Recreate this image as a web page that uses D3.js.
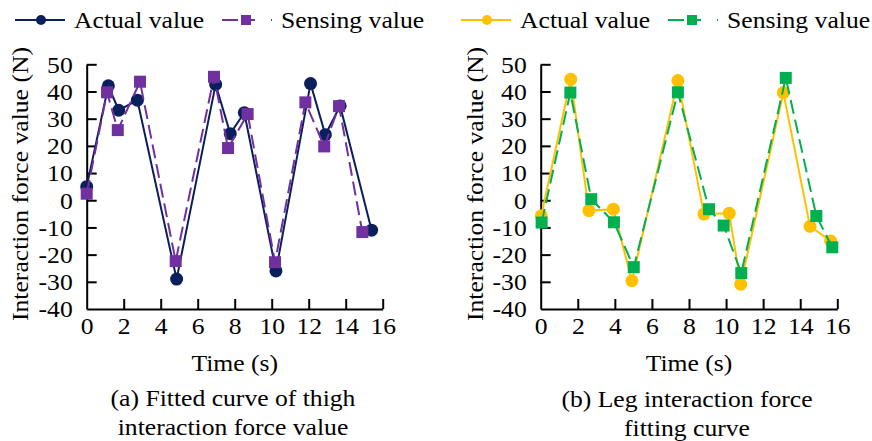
<!DOCTYPE html>
<html>
<head>
<meta charset="utf-8">
<script src="https://cdn.jsdelivr.net/npm/d3@7"></script>
<style>
  html, body { margin: 0; padding: 0; background: #fff; }
  svg { display: block; }
  text { font-family: "Liberation Serif", "Times New Roman", serif; fill: #000; }
</style>
</head>
<body>
<svg id="chart" width="872" height="441"></svg>
<script>
// (a) thigh
const thighActualT = [0, 1.17, 1.73, 2.74, 4.86, 6.97, 7.76, 8.52, 10.23, 12.1, 12.9, 13.7, 15.4];
const thighActualV = [5.0, 42.1, 33.1, 36.8, -29.0, 42.6, 24.5, 32.2, -26.0, 42.9, 24.1, 34.7, -11.0];
const thighSensingT = [0, 1.1, 1.68, 2.88, 4.81, 6.88, 7.64, 8.7, 10.18, 11.82, 12.84, 13.64, 14.9];
const thighSensingV = [2.4, 39.7, 25.8, 43.6, -22.4, 45.4, 19.2, 31.7, -22.8, 36.0, 19.8, 34.6, -11.7];

// (b) leg
const legActualT = [0.03, 1.62, 2.6, 3.92, 4.92, 7.4, 8.81, 10.17, 10.79, 13.09, 14.53, 15.64];
const legActualV = [-5.7, 44.5, -3.8, -3.3, -29.6, 44.0, -5.1, -4.8, -30.9, 39.6, -9.6, -15.0];
const legSensingT = [0.05, 1.6, 2.73, 3.95, 5.02, 7.4, 9.08, 9.87, 10.82, 13.22, 14.87, 15.73];
const legSensingV = [-8.2, 39.6, 0.4, -8.1, -24.6, 39.7, -3.3, -9.3, -26.8, 45.0, -5.8, -17.3];

const xTicks = [0, 2, 4, 6, 8, 10, 12, 14, 16];
const yTicks = [-40, -30, -20, -10, 0, 10, 20, 30, 40, 50];
const seriesNames = ["Actual value", "Sensing value"];

const FS = 22.6;   // font size
const SX = 1.135;  // the source image is a bit wider than tall

const svg = d3.select("#chart");

// horizontal stretch for text placed at (x, y)
function putText(g, x, y, str, anchor) {
  return g.append("text")
    .attr("transform", `translate(${x},${y}) scale(${SX},1)`)
    .attr("text-anchor", anchor || "middle")
    .attr("font-size", FS)
    .text(str);
}

const fmt = (d) => (d < 0 ? "-" + Math.abs(d) : String(d));

function drawPanel(p) {
  const x = d3.scaleLinear().domain([0, 16]).range([p.x0, p.x1]);
  const y = d3.scaleLinear().domain([-40, 50]).range([309, 64.3]);
  const g = svg.append("g");

  // axes (ticks point inwards)
  const ax = g.append("g").attr("transform", "translate(0,309)")
    .call(d3.axisBottom(x).tickValues(xTicks).tickFormat(fmt).tickSizeInner(-10).tickSizeOuter(0).tickPadding(9));
  const ay = g.append("g").attr("transform", `translate(${p.x0},0)`)
    .call(d3.axisLeft(y).tickValues(yTicks).tickFormat(fmt).tickSizeInner(-10).tickSizeOuter(0).tickPadding(0));
  for (const a of [ax, ay]) {
    a.select(".domain").attr("stroke", "#000").attr("stroke-width", 2);
    a.selectAll(".tick line").attr("stroke", "#000").attr("stroke-width", 2);
    a.selectAll(".tick text").attr("font-size", FS).attr("font-family", null).attr("fill", "#000");
  }
  ay.selectAll(".tick line").filter((d) => d === -40).remove();
  ax.selectAll(".tick line").filter((d) => d === 0).remove();
  ay.selectAll(".tick text")
    .attr("x", null).attr("dy", "0.35em")
    .attr("transform", `translate(-14,0) scale(${SX},1)`);
  ax.selectAll(".tick text").attr("transform", `scale(${SX},1)`);

  // axis titles
  g.append("text")
    .attr("transform", `translate(${p.yLabelX},184) rotate(-90) scale(${SX},1)`)
    .attr("text-anchor", "middle")
    .attr("font-size", FS)
    .text("Interaction force value (N)");
  putText(g, (p.x0 + p.x1) / 2, 371, "Time (s)");

  // captions
  p.caption.forEach((line, i) => putText(g, p.capX, p.capY + i * 29, line));

  // series
  const line = d3.line().x((d) => x(d[0])).y((d) => y(d[1]));
  const actual = d3.zip(p.actualT, p.actualV);
  const sensing = d3.zip(p.sensingT, p.sensingV);

  g.append("path").datum(actual).attr("d", line)
    .attr("fill", "none").attr("stroke", p.colors[0]).attr("stroke-width", 2);
  g.append("g").selectAll("circle").data(actual).join("circle")
    .attr("cx", (d) => x(d[0])).attr("cy", (d) => y(d[1])).attr("r", 6.5)
    .attr("fill", p.colors[0]);

  g.append("path").datum(sensing).attr("d", line)
    .attr("fill", "none").attr("stroke", p.colors[1]).attr("stroke-width", 2)
    .attr("stroke-dasharray", "14,6");
  const s = 12;
  g.append("g").selectAll("rect").data(sensing).join("rect")
    .attr("x", (d) => x(d[0]) - s / 2).attr("y", (d) => y(d[1]) - s / 2)
    .attr("width", s).attr("height", s)
    .attr("fill", p.colors[1]);

  // legend
  const lg = g.append("g").attr("transform", "translate(0,20)");
  const items = [
    { x: p.legX[0], color: p.colors[0], dash: null, mark: "circle" },
    { x: p.legX[1], color: p.colors[1], dash: "16,12,5", mark: "rect" },
  ];
  items.forEach((it, i) => {
    lg.append("line").attr("x1", it.x).attr("x2", it.x + 50).attr("y1", 0).attr("y2", 0)
      .attr("stroke", it.color).attr("stroke-width", 2)
      .attr("stroke-dasharray", it.dash);
    if (it.mark === "circle") {
      lg.append("circle").attr("cx", it.x + 26).attr("cy", 0).attr("r", 5).attr("fill", it.color);
    } else {
      lg.append("rect").attr("x", it.x + 19).attr("y", -5).attr("width", 10).attr("height", 10).attr("fill", it.color);
    }
    putText(lg, it.x + 59, 8, seriesNames[i], "start");
  });
}

drawPanel({
  x0: 86.7, x1: 382.7, yLabelX: 28,
  actualT: thighActualT, actualV: thighActualV,
  sensingT: thighSensingT, sensingV: thighSensingV,
  colors: ["#0b1f5c", "#7030a0"],
  legX: [15, 222],
  caption: ["(a) Fitted curve of thigh", "interaction force value"],
  capX: 233, capY: 406,
});

drawPanel({
  x0: 540.7, x1: 837.3, yLabelX: 483,
  actualT: legActualT, actualV: legActualV,
  sensingT: legSensingT, sensingV: legSensingV,
  colors: ["#ffc000", "#00b050"],
  legX: [461, 668],
  caption: ["(b) Leg interaction force", "fitting curve"],
  capX: 687, capY: 407,
});
</script>
</body>
</html>
